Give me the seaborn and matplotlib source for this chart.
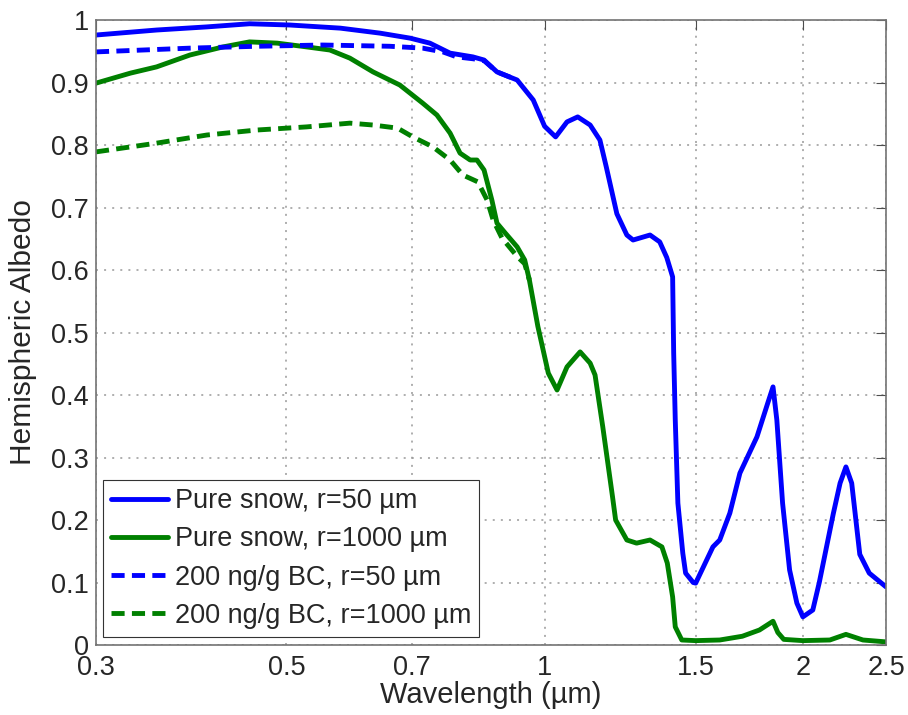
import seaborn as sns
import pandas as pd
import numpy as np
import matplotlib.pyplot as plt

# Valores (longitud de onda en um, albedo)
wl_pure50 = [0.30, 0.353, 0.404, 0.453, 0.505, 0.578, 0.643, 0.697, 0.735, 0.776,
             0.825, 0.85, 0.88, 0.929, 0.97, 1.0, 1.03, 1.062, 1.093, 1.13,
             1.16, 1.18, 1.214, 1.247, 1.268, 1.327, 1.362, 1.388, 1.41, 1.414,
             1.42, 1.43, 1.449, 1.46, 1.49, 1.5, 1.571, 1.60, 1.644, 1.689,
             1.768, 1.82, 1.846, 1.865, 1.894, 1.93, 1.968, 2.0, 2.054, 2.09,
             2.17, 2.21, 2.245, 2.28, 2.33, 2.39, 2.5]
alb_pure50 = [0.976, 0.984, 0.989, 0.994, 0.992, 0.987, 0.979, 0.971, 0.963, 0.947,
              0.941, 0.936, 0.917, 0.904, 0.872, 0.83, 0.813, 0.837, 0.845, 0.832,
              0.808, 0.765, 0.69, 0.656, 0.648, 0.656, 0.645, 0.62, 0.589, 0.467,
              0.36, 0.227, 0.147, 0.115, 0.10, 0.099, 0.157, 0.168, 0.211, 0.275,
              0.333, 0.387, 0.413, 0.36, 0.227, 0.12, 0.067, 0.045, 0.056, 0.10,
              0.21, 0.259, 0.285, 0.259, 0.145, 0.115, 0.093]

wl_pure1000 = [0.30, 0.329, 0.353, 0.386, 0.422, 0.453, 0.488, 0.528, 0.562, 0.593,
               0.631, 0.678, 0.721, 0.749, 0.776, 0.797, 0.819, 0.834, 0.85, 0.868,
               0.88, 0.9, 0.929, 0.948, 0.96, 0.982, 1.01, 1.034, 1.062, 1.1,
               1.13, 1.145, 1.169, 1.2, 1.21, 1.247, 1.28, 1.327, 1.37, 1.39,
               1.41, 1.42, 1.445, 1.5, 1.6, 1.7, 1.78, 1.846, 1.87, 1.9,
               2.0, 2.15, 2.245, 2.35, 2.5]
alb_pure1000 = [0.899, 0.915, 0.925, 0.944, 0.957, 0.965, 0.963, 0.957, 0.952, 0.939,
                0.917, 0.896, 0.867, 0.848, 0.819, 0.787, 0.776, 0.776, 0.76, 0.712,
                0.675, 0.659, 0.637, 0.616, 0.584, 0.51, 0.435, 0.408, 0.445, 0.469,
                0.451, 0.432, 0.349, 0.237, 0.2, 0.168, 0.163, 0.168, 0.157, 0.131,
                0.077, 0.029, 0.008, 0.007, 0.008, 0.014, 0.024, 0.038, 0.02, 0.009,
                0.007, 0.008, 0.017, 0.008, 0.005]

wl_bc50 = [0.30, 0.386, 0.462, 0.551, 0.66, 0.721, 0.761, 0.79, 0.825, 0.85, 0.88, 0.929]
alb_bc50 = [0.949, 0.955, 0.958, 0.96, 0.958, 0.955, 0.949, 0.941, 0.938, 0.935, 0.917, 0.904]

wl_bc1000 = [0.30, 0.353, 0.404, 0.462, 0.528, 0.593, 0.631, 0.674, 0.702, 0.741,
             0.776, 0.803, 0.836, 0.857, 0.871, 0.892, 0.93, 0.948, 0.96]
alb_bc1000 = [0.789, 0.803, 0.816, 0.824, 0.829, 0.835, 0.832, 0.827, 0.813, 0.797,
              0.776, 0.752, 0.741, 0.712, 0.68, 0.651, 0.621, 0.61, 0.584]

series_labels = ['Pure snow, r=50 µm', 'Pure snow, r=1000 µm',
                 '200 ng/g BC, r=50 µm', '200 ng/g BC, r=1000 µm']

xticks = [0.3, 0.5, 0.7, 1, 1.5, 2, 2.5]
xtick_labels = ['0.3', '0.5', '0.7', '1', '1.5', '2', '2.5']
yticks = [0, 0.1, 0.2, 0.3, 0.4, 0.5, 0.6, 0.7, 0.8, 0.9, 1]
ytick_labels = ['0', '0.1', '0.2', '0.3', '0.4', '0.5', '0.6', '0.7', '0.8', '0.9', '1']

sns.set_style("white")
plt.rcParams['font.family'] = ['Liberation Sans', 'DejaVu Sans']

fig, ax = plt.subplots(figsize=(9.08, 7.15), dpi=100)
fig.subplots_adjust(left=0.1057, right=0.9758, bottom=0.0979, top=0.972)

azul = (0, 0, 1)
verde = (0, 0.5, 0)
guion = (0, (2.7, 1.5))

curvas = [(wl_pure50, alb_pure50, azul, '-'),
          (wl_pure1000, alb_pure1000, verde, '-'),
          (wl_bc50, alb_bc50, azul, guion),
          (wl_bc1000, alb_bc1000, verde, guion)]

for (wl, alb, col, ls), lab in zip(curvas, series_labels):
    df = pd.DataFrame({'wl': wl, 'alb': alb})
    sns.lineplot(data=df, x='wl', y='alb', ax=ax, color=col, linewidth=3.5,
                 linestyle=ls, label=lab, sort=False)

ax.set_xscale('log')
ax.set_xlim(0.3, 2.5)
ax.set_ylim(0, 1)
ax.set_xticks(xticks)
ax.set_xticklabels(xtick_labels)
ax.minorticks_off()
ax.set_yticks(yticks)
ax.set_yticklabels(ytick_labels)

ax.grid(True, linestyle=(0, (1.3, 4)), color='0.6', linewidth=1.1)
ax.tick_params(direction='in', length=7, width=0.8, color='0.3',
               top=True, right=True, labelsize=19.5)
ax.tick_params(axis='x', pad=7)
ax.tick_params(axis='y', pad=5)
for s in ax.spines.values():
    s.set_visible(True)
    s.set_color('0.45')
    s.set_linewidth(1.2)

ax.set_xlabel('Wavelength (µm)', fontsize=21, labelpad=0)
ax.set_ylabel('Hemispheric Albedo', fontsize=21.5, labelpad=10)

leg = ax.legend(loc='lower left', bbox_to_anchor=(0.009, 0.013), borderaxespad=0,
                fontsize=19.5, handlelength=2.1, handletextpad=0.25,
                labelspacing=0.45, borderpad=0.3, fancybox=False,
                framealpha=1, edgecolor='0.2')
leg.get_frame().set_linewidth(0.8)

plt.savefig('out.png', dpi=100)
